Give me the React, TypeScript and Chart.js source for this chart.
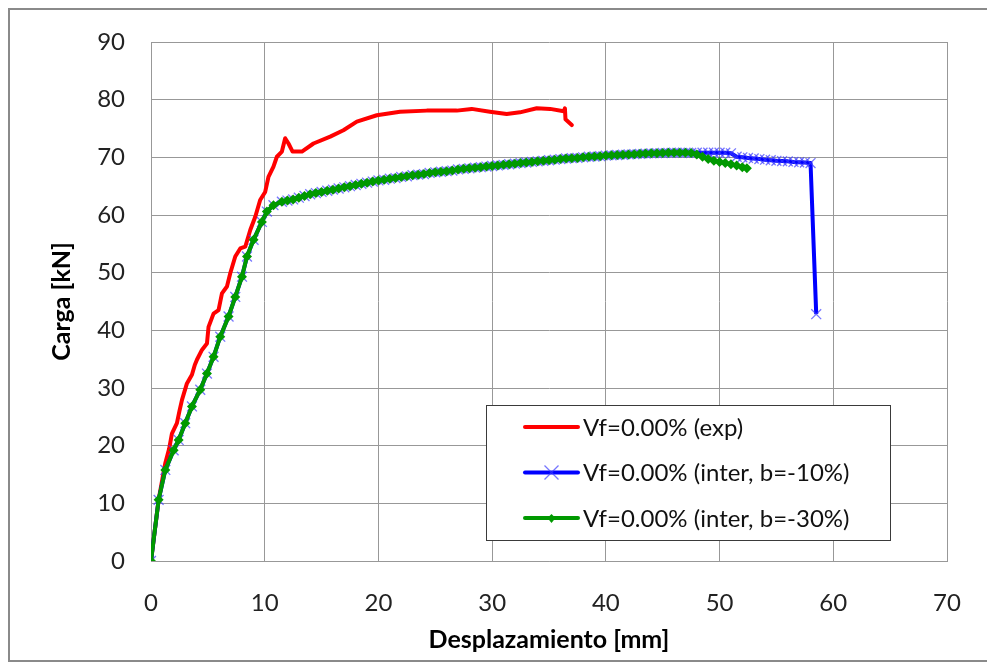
import React, { useEffect, useRef } from "react";
import { Chart, registerables } from "chart.js";

Chart.register(...registerables);

// ---- Data ----
const seriesLabels = [
  "Vf=0.00% (exp)",
  "Vf=0.00% (inter, b=-10%)",
  "Vf=0.00% (inter, b=-30%)",
];

const xAxisTitle = "Desplazamiento [mm]";
const yAxisTitle = "Carga [kN]";

// experimental curve
const expDisp = [
  0, 0.67, 1.0, 1.26, 1.6, 1.84, 2.28, 2.5, 2.72, 3.16, 3.6, 3.85, 4.04,
  4.48, 4.92, 5.06, 5.5, 5.94, 6.24, 6.68, 6.97, 7.41, 7.85, 8.29, 8.73, 9.17,
  9.6, 10.04, 10.33, 10.77, 11.07, 11.51, 11.8, 12.09, 12.45, 13.27, 14.29,
  15.76, 16.92, 18.1, 19.86, 21.9, 24.25, 26.89, 28.2, 29.8, 31.28, 32.45,
  33.92, 35.1, 36.3, 36.4, 36.45, 37.0,
];
const expLoad = [
  0, 10.6, 14.2, 17.0, 19.5, 22.1, 23.9, 26.0, 27.9, 30.8, 32.3, 34.0, 34.9,
  36.6, 37.7, 40.6, 42.9, 43.5, 46.4, 47.6, 49.9, 52.8, 54.2, 54.5, 57.4, 59.7,
  62.6, 64.0, 66.6, 68.4, 70.1, 71.0, 73.3, 72.4, 71.0, 71.0, 72.4, 73.6, 74.7,
  76.2, 77.3, 77.9, 78.1, 78.1, 78.4, 77.9, 77.5, 77.8, 78.5, 78.4, 78.0, 78.5,
  76.6, 75.6,
];

// common part of both numerical curves
const interDisp = [
  0, 0.67, 1.26, 1.99, 2.43, 3.01, 3.6, 4.33, 4.92, 5.5, 6.09, 6.82, 7.41, 8.0,
  8.44, 9.02, 9.75, 10.19, 10.77, 11.51, 12.0, 12.5, 13.0, 13.5, 14.0, 14.5,
  15.0, 15.5, 16.0, 16.5, 17.0, 17.5, 18.0, 18.5, 19.0, 19.5, 20.0, 20.5, 21.0,
  21.5, 22.0, 22.5, 23.0, 23.5, 24.0, 24.5, 25.0, 25.5, 26.0, 26.5, 27.0, 27.5,
  28.0, 28.5, 29.0, 29.5, 30.0, 30.5, 31.0, 31.5, 32.0, 32.5, 33.0, 33.5, 34.0,
  34.5, 35.0, 35.5, 36.0, 36.5, 37.0, 37.5, 38.0, 38.5, 39.0, 39.5, 40.0, 40.5,
  41.0, 41.5, 42.0, 42.5, 43.0, 43.5, 44.0, 44.5, 45.0, 45.5, 46.0, 46.5, 47.0,
  47.5,
];
const interLoad = [
  0, 10.6, 15.8, 19.2, 21.0, 23.9, 26.8, 29.7, 32.5, 35.4, 38.9, 42.4, 45.8,
  49.3, 52.8, 55.7, 58.8, 60.6, 61.7, 62.3, 62.5, 62.7, 63.0, 63.3, 63.6, 63.8,
  64.0, 64.2, 64.4, 64.6, 64.8, 65.0, 65.2, 65.4, 65.6, 65.8, 66.0, 66.1, 66.3,
  66.4, 66.6, 66.7, 66.9, 67.0, 67.1, 67.3, 67.4, 67.5, 67.6, 67.7, 67.9, 68.0,
  68.1, 68.2, 68.3, 68.4, 68.5, 68.6, 68.7, 68.8, 68.9, 69.0, 69.1, 69.2, 69.3,
  69.4, 69.5, 69.6, 69.7, 69.8, 69.85, 69.9, 70.0, 70.1, 70.15, 70.2, 70.3,
  70.35, 70.4, 70.45, 70.5, 70.55, 70.6, 70.65, 70.7, 70.72, 70.75, 70.78, 70.8,
  70.8, 70.8, 70.75,
];

// b = -10% tail
const blueTailDisp = [
  48.0, 48.5, 49.0, 49.5, 50.0, 50.5, 51.0, 51.5, 52.0, 52.5, 53.0, 53.5, 54.0,
  54.5, 55.0, 55.5, 56.0, 56.5, 57.0, 57.5, 58.0, 58.5,
];
const blueTailLoad = [
  70.8, 70.8, 70.8, 70.8, 70.8, 70.8, 70.7, 70.1, 70.0, 69.9, 69.8, 69.7, 69.6,
  69.5, 69.4, 69.35, 69.3, 69.2, 69.15, 69.1, 69.0, 42.8,
];

// b = -30% tail
const greenTailDisp = [48.0, 48.5, 49.0, 49.5, 50.0, 50.5, 51.0, 51.5, 52.0, 52.4];
const greenTailLoad = [70.5, 70.1, 69.7, 69.4, 69.2, 69.0, 68.8, 68.6, 68.3, 68.1];

const xMin = 0, xMax = 70, xStep = 10;
const yMin = 0, yMax = 90, yStep = 10;

// ---- Styles ----
const RED = "#FF0000";
const BLUE = "#0000FF";
const GREEN = "#009900";
const XMARK = "rgba(60,60,255,0.7)";
const FRAME = "#8a8a8a";
const FONT = "Lato";
const W = 987, H = 663;

const toPoints = (xs: number[], ys: number[]) => xs.map((x, i) => ({ x, y: ys[i] }));

const framePlugin = {
  id: "outerFrame",
  beforeDraw(chart: any) {
    const ctx = chart.ctx as CanvasRenderingContext2D;
    ctx.save();
    ctx.fillStyle = "#ffffff";
    ctx.fillRect(0, 0, W, H);
    ctx.fillStyle = FRAME;
    ctx.fillRect(8, 8, W - 8, 2);
    ctx.fillRect(8, 8, 2, 654);
    ctx.fillRect(8, 660, W - 8, 2);
    ctx.restore();
  },
};

const legendPlugin = {
  id: "boxLegend",
  afterDraw(chart: any) {
    const ctx = chart.ctx as CanvasRenderingContext2D;
    const L = 486, T = 405, BW = 405, BH = 136;
    ctx.save();
    ctx.fillStyle = "#ffffff";
    ctx.fillRect(L, T, BW, BH);
    ctx.strokeStyle = "#3a3a3a";
    ctx.lineWidth = 1;
    ctx.strokeRect(L + 0.5, T + 0.5, BW - 1, BH - 1);
    const rowsY = [T + 22, T + 67.5, T + 113];
    const x0 = 525, x1 = 578, cx = (x0 + x1) / 2;
    const colors = [RED, BLUE, GREEN];
    chart.data.datasets.forEach((ds: any, i: number) => {
      const y = rowsY[i];
      ctx.strokeStyle = colors[i];
      ctx.lineWidth = 4;
      ctx.lineCap = "round";
      ctx.beginPath();
      ctx.moveTo(x0, y);
      ctx.lineTo(x1, y);
      ctx.stroke();
      if (i === 1) {
        ctx.strokeStyle = XMARK;
        ctx.lineWidth = 1.3;
        ctx.lineCap = "butt";
        ctx.beginPath();
        ctx.moveTo(cx - 7, y - 7);
        ctx.lineTo(cx + 7, y + 7);
        ctx.moveTo(cx + 7, y - 7);
        ctx.lineTo(cx - 7, y + 7);
        ctx.stroke();
      }
      if (i === 2) {
        ctx.fillStyle = GREEN;
        ctx.beginPath();
        ctx.moveTo(cx, y - 4);
        ctx.lineTo(cx + 4, y);
        ctx.lineTo(cx, y + 5);
        ctx.lineTo(cx - 4, y);
        ctx.closePath();
        ctx.fill();
      }
      ctx.fillStyle = "#111";
      ctx.font = `24px ${FONT}`;
      ctx.textAlign = "left";
      ctx.textBaseline = "middle";
      ctx.fillText(ds.label, 583, y + 1);
    });
    ctx.restore();
  },
};

export default function App() {
  const canvasRef = useRef<HTMLCanvasElement | null>(null);

  useEffect(() => {
    const canvas = canvasRef.current;
    if (!canvas) return;
    const chart = new Chart(canvas, {
      type: "scatter",
      data: {
        datasets: [
          {
            label: seriesLabels[0],
            data: toPoints(expDisp, expLoad),
            showLine: true,
            borderColor: RED,
            backgroundColor: RED,
            borderWidth: 4,
            pointRadius: 0,
            borderJoinStyle: "round",
            borderCapStyle: "round",
            order: 3,
          },
          {
            label: seriesLabels[1],
            data: toPoints(interDisp.concat(blueTailDisp), interLoad.concat(blueTailLoad)),
            showLine: true,
            borderColor: BLUE,
            borderWidth: 4,
            pointStyle: "crossRot",
            pointRadius: 7,
            pointBorderWidth: 1.3,
            pointBorderColor: XMARK,
            pointBackgroundColor: XMARK,
            borderJoinStyle: "round",
            order: 2,
          },
          {
            label: seriesLabels[2],
            data: toPoints(interDisp.concat(greenTailDisp), interLoad.concat(greenTailLoad)),
            showLine: true,
            borderColor: GREEN,
            borderWidth: 4,
            pointStyle: "rectRot",
            pointRadius: 5,
            pointBorderWidth: 0,
            pointBackgroundColor: GREEN,
            pointBorderColor: GREEN,
            borderJoinStyle: "round",
            order: 1,
          },
        ],
      },
      options: {
        animation: false,
        responsive: false,
        devicePixelRatio: 1,
        layout: { padding: { left: 10, right: 40, top: 42, bottom: 0 } },
        plugins: {
          legend: { display: false },
          tooltip: { enabled: false },
        },
        scales: {
          x: {
            type: "linear",
            min: xMin,
            max: xMax,
            afterFit: (s: any) => {
              s.height = 102;
              s.paddingLeft = 0;
              s.paddingRight = 0;
              s.paddingTop = 0;
              s.paddingBottom = 0;
            },
            ticks: {
              stepSize: xStep,
              padding: 28,
              color: "#222",
              font: { family: FONT, size: 24 },
            },
            grid: { color: "#989898", lineWidth: 1, drawTicks: false },
            border: { color: "#989898", width: 1 },
            title: {
              display: true,
              text: xAxisTitle,
              color: "#000",
              font: { family: FONT, size: 25, weight: "bold" },
              padding: { top: 0, bottom: 8 },
            },
          },
          y: {
            type: "linear",
            min: yMin,
            max: yMax,
            afterFit: (s: any) => {
              s.width = 141;
              s.paddingLeft = 0;
              s.paddingRight = 0;
              s.paddingTop = 0;
              s.paddingBottom = 0;
            },
            ticks: {
              stepSize: yStep,
              padding: 26,
              color: "#222",
              font: { family: FONT, size: 24 },
            },
            grid: { color: "#989898", lineWidth: 1, drawTicks: false },
            border: { color: "#989898", width: 1 },
            title: {
              display: true,
              text: yAxisTitle,
              color: "#000",
              font: { family: FONT, size: 25, weight: "bold" },
              padding: { top: 37, bottom: 0 },
            },
          },
        },
      },
      plugins: [framePlugin, legendPlugin],
    });
    return () => chart.destroy();
  }, []);

  return (
    <div style={{ position: "fixed", left: 0, top: 0, width: W, height: H }}>
      <canvas ref={canvasRef} width={W} height={H} style={{ display: "block" }} />
    </div>
  );
}
